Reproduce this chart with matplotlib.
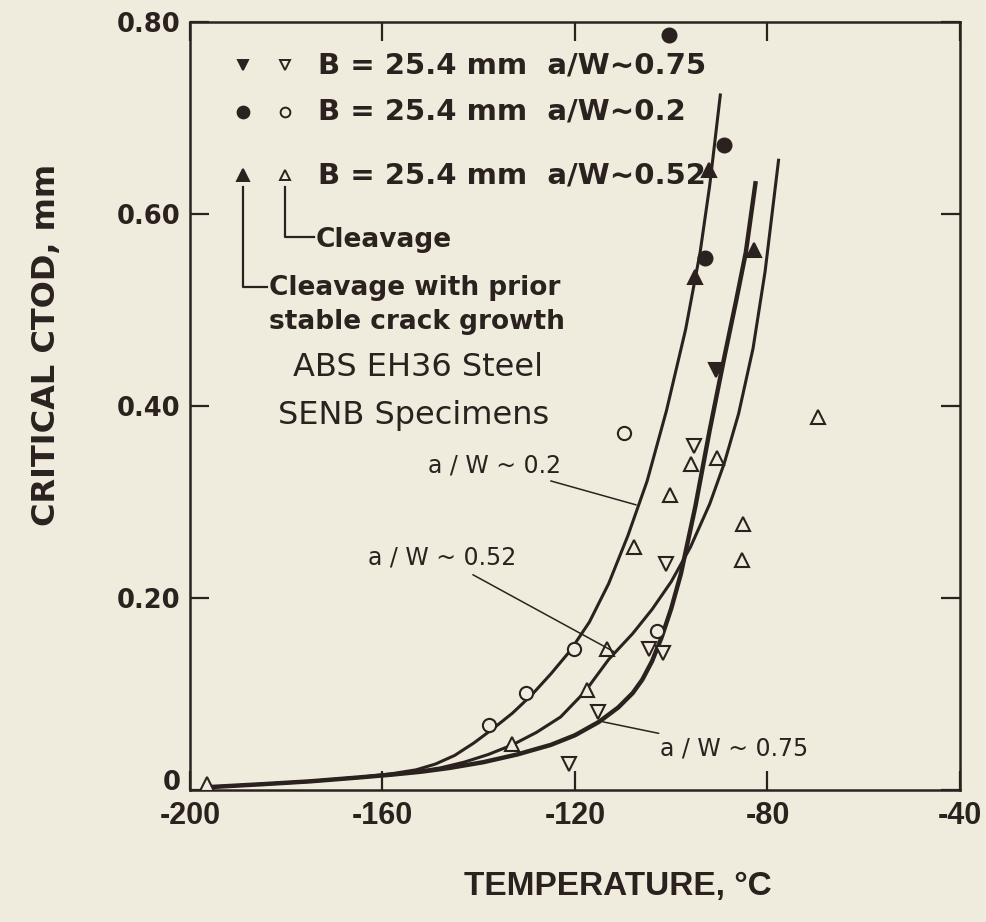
import matplotlib.pyplot as plt

# values: temperature in C, critical CTOD in mm
temp_ticks = [-200, -160, -120, -80, -40]
ctod_ticks = [0, 0.2, 0.4, 0.6, 0.8]
ctod_tick_labels = ['0', '0.20', '0.40', '0.60', '0.80']

# a/W ~ 0.2  (circles)
circ_open_t = [-137.9, -130.2, -120.2, -109.8, -102.9]
circ_open_c = [0.068, 0.101, 0.147, 0.372, 0.166]
circ_fill_t = [-100.4, -89.0, -92.9]
circ_fill_c = [0.786, 0.672, 0.554]

# a/W ~ 0.52  (up triangles)
up_open_t = [-196.5, -133.1, -117.5, -113.3, -107.7, -100.2, -95.8, -90.4, -85.0, -85.2, -69.6]
up_open_c = [0.006, 0.048, 0.104, 0.147, 0.253, 0.307, 0.340, 0.346, 0.277, 0.240, 0.389]
up_fill_t = [-92.1, -95.0, -82.7]
up_fill_c = [0.646, 0.534, 0.5625]

# a/W ~ 0.75  (down triangles)
dn_open_t = [-121.2, -115.2, -104.6, -101.7, -101.0, -95.2]
dn_open_c = [0.027, 0.081, 0.147, 0.143, 0.235, 0.358]
dn_fill_t = [-90.6]
dn_fill_c = [0.4375]

# fitted curves, points
fit02_t = [-196, -185, -175, -165, -158, -153, -149, -145, -141, -137, -133, -129, -125,
           -121, -117, -113, -109, -105, -101, -97, -94, -92, -89.8]
fit02_c = [0.003, 0.006, 0.009, 0.013, 0.017, 0.021, 0.027, 0.036, 0.049, 0.064, 0.080, 0.099, 0.121,
           0.145, 0.175, 0.215, 0.265, 0.322, 0.395, 0.480, 0.560, 0.630, 0.724]
fit052_t = [-196, -185, -175, -165, -158, -153, -148, -143, -138, -133, -128, -123, -118,
            -113, -108, -104, -100, -96, -92, -89, -86, -83, -80.5, -77.7]
fit052_c = [0.003, 0.006, 0.009, 0.013, 0.016, 0.019, 0.023, 0.029, 0.037, 0.047, 0.060, 0.076, 0.102,
            0.136, 0.163, 0.188, 0.217, 0.253, 0.298, 0.340, 0.392, 0.460, 0.540, 0.656]
fit075_t = [-196, -185, -175, -165, -158, -152, -146, -139, -132, -125, -120, -115, -111,
            -108, -106, -104, -102, -100, -98, -95, -92, -89, -86.5, -84.5, -82.5]
fit075_c = [0.003, 0.006, 0.009, 0.013, 0.016, 0.019, 0.023, 0.029, 0.037, 0.047, 0.057, 0.071, 0.086,
            0.101, 0.115, 0.134, 0.159, 0.189, 0.225, 0.295, 0.375, 0.450, 0.510, 0.560, 0.632]

paper = '#efebdd'
ink = '#2b2220'

fig = plt.figure(figsize=(9.86, 9.22), dpi=100, facecolor=paper)
ax = fig.add_axes([0.1927, 0.1432, 0.7809, 0.8329], facecolor=paper)

# curves
ax.plot(fit02_t, fit02_c, color=ink, lw=2.2, solid_joinstyle='round', zorder=2)
ax.plot(fit052_t, fit052_c, color=ink, lw=2.2, solid_joinstyle='round', zorder=2)
ax.plot(fit075_t, fit075_c, color=ink, lw=3.2, solid_joinstyle='round', zorder=2)

# data points
mk = {'ls': 'none', 'mec': ink, 'mew': 1.5, 'zorder': 3}
ax.plot(circ_open_t, circ_open_c, 'o', ms=9.5, mfc=paper, **mk)
ax.plot(up_open_t, up_open_c, '^', ms=10, mfc=paper, **mk)
ax.plot(dn_open_t, dn_open_c, 'v', ms=10, mfc=paper, **mk)
ax.plot(circ_fill_t, circ_fill_c, 'o', ms=10, mfc=ink, **mk)
ax.plot(up_fill_t, up_fill_c, '^', ms=10, mfc=ink, **mk)
ax.plot(dn_fill_t, dn_fill_c, 'v', ms=10, mfc=ink, **mk)

# hand drawn legend
leg = {'ls': 'none', 'mec': ink, 'mew': 1.4, 'clip_on': False}
ax.plot([-188.96], [0.7552], 'v', ms=7.5, mfc=ink, **leg)
ax.plot([-180.2], [0.7552], 'v', ms=7.5, mfc=paper, **leg)
ax.plot([-188.96], [0.7063], 'o', ms=8.5, mfc=ink, **leg)
ax.plot([-180.2], [0.7063], 'o', ms=7, mfc=paper, **leg)
ax.plot([-188.96], [0.6406], '^', ms=8.5, mfc=ink, **leg)
ax.plot([-180.2], [0.6406], '^', ms=7.5, mfc=paper, **leg)

lg_font = {'family': 'DejaVu Sans', 'weight': 'bold', 'color': ink}
ax.text(-173.5, 0.7552, 'B = 25.4 mm  a/W~0.75', fontsize=21, va='center', **lg_font)
ax.text(-173.5, 0.7063, 'B = 25.4 mm  a/W~0.2', fontsize=21, va='center', **lg_font)
ax.text(-173.5, 0.6406, 'B = 25.4 mm  a/W~0.52', fontsize=21, va='center', **lg_font)

ax.plot([-180.2, -180.2, -174.2], [0.628, 0.576, 0.576], color=ink, lw=1.6)
ax.plot([-188.96, -188.96, -183.9], [0.628, 0.524, 0.524], color=ink, lw=1.6)
ax.text(-173.8, 0.5729, 'Cleavage', fontsize=19, va='center', **lg_font)
ax.text(-183.6, 0.5229, 'Cleavage with prior', fontsize=19, va='center', **lg_font)
ax.text(-183.6, 0.4875, 'stable crack growth', fontsize=19, va='center', **lg_font)

ax.text(-152.7, 0.4406, 'ABS EH36 Steel', fontsize=23, ha='center', va='center',
        family='DejaVu Sans', color=ink)
ax.text(-153.5, 0.3906, 'SENB Specimens', fontsize=23, ha='center', va='center',
        family='DejaVu Sans', color=ink)

# curve labels with leader lines
ann = {'fontsize': 17, 'family': 'DejaVu Sans', 'color': ink, 'va': 'center',
       'arrowprops': {'arrowstyle': '-', 'color': ink, 'lw': 1.1, 'shrinkA': 3, 'shrinkB': 0}}
ax.annotate('a / W ~ 0.2', xy=(-107.3, 0.297), xytext=(-123.0, 0.3385), ha='right', **ann)
ax.annotate('a / W ~ 0.52', xy=(-111.9, 0.144), xytext=(-132.2, 0.2417), ha='right', **ann)
ax.annotate('a / W ~ 0.75', xy=(-114.2, 0.071), xytext=(-102.3, 0.0427), ha='left', **ann)

# axes
ax.set_xlim(-200, -40)
ax.set_ylim(0, 0.8)
ax.set_xticks(temp_ticks)
ax.set_xticklabels([str(t) for t in temp_ticks])
ax.set_yticks(ctod_ticks)
ax.set_yticklabels(ctod_tick_labels)
ax.tick_params(direction='in', length=14, width=1.6, color=ink, top=True, right=True,
               labelcolor=ink)
ax.tick_params(axis='x', pad=8)
ax.tick_params(axis='y', pad=7)
for lab in ax.get_xticklabels():
    lab.set_family('Liberation Sans')
    lab.set_weight('bold')
    lab.set_fontsize(22)
for lab in ax.get_yticklabels():
    lab.set_family('DejaVu Sans')
    lab.set_weight('bold')
    lab.set_fontsize(18.5)
ax.get_yticklabels()[0].set_va('baseline')
for sp in ax.spines.values():
    sp.set_color(ink)
    sp.set_linewidth(1.8)

ax.set_xlabel('TEMPERATURE, °C', fontsize=24, family='Liberation Sans', weight='bold', color=ink)
ax.xaxis.set_label_coords(0.556, -0.105)
ax.set_ylabel('CRITICAL CTOD, mm', fontsize=23, family='DejaVu Sans', weight='bold', color=ink)
ax.yaxis.set_label_coords(-0.166, 0.579)

fig.savefig('out.png', dpi=100, facecolor=paper)
